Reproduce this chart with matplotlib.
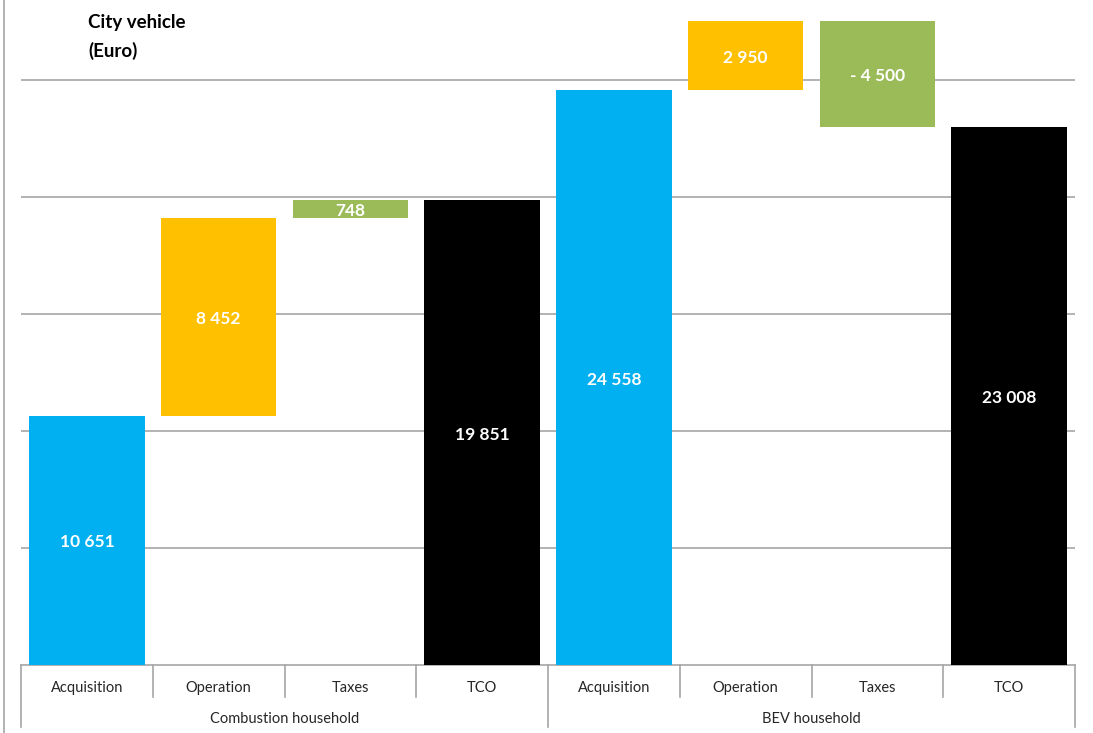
import matplotlib.pyplot as plt
from matplotlib.lines import Line2D

plt.rcParams['font.family'] = ['Lato', 'DejaVu Sans']

# data
groups = ["Combustion household", "BEV household"]
steps = ["Acquisition", "Operation", "Taxes", "TCO"]
combustion = [10651, 8452, 748]
bev = [24558, 2950, -4500]
colors = ["#00B0F0", "#FFC000", "#9BBB59", "#000000"]


def waterfall(vals):
    """ bottoms and heights for a waterfall with a total bar """
    bottoms, heights = [], []
    run = 0
    for v in vals:
        if v >= 0:
            bottoms.append(run)
            heights.append(v)
        else:
            bottoms.append(run + v)
            heights.append(-v)
        run += v
    bottoms.append(0)
    heights.append(run)
    return bottoms, heights, vals + [run]


W, H = 1093, 733
fig = plt.figure(figsize=(W / 100, H / 100), dpi=100)
ymax = 28000
px_per = 585 / 25000
ax_h = ymax * px_per
ax = fig.add_axes([21 / W, (H - 665) / H, (1075 - 21) / W, ax_h / H])

x = 0
for g, vals in zip(groups, [combustion, bev]):
    bottoms, heights, labels = waterfall(vals)
    for i in range(4):
        ax.bar(x + i, heights[i], bottom=bottoms[i], width=0.875,
               color=colors[i], zorder=3)
        txt = f"{abs(labels[i]):,}".replace(",", " ")
        if labels[i] < 0:
            txt = "- " + txt
        ax.annotate(txt, (x + i, bottoms[i] + heights[i] / 2),
                    xytext=(0, -1.5), textcoords='offset points',
                    ha='center', va='center', color='white',
                    fontweight='bold', fontsize=12.5, zorder=4)
    x += 4

ax.set_xlim(-0.5, 7.5)
ax.set_ylim(0, ymax)
ax.set_yticks([5000, 10000, 15000, 20000, 25000])
ax.yaxis.grid(True, color='#a6a6a6', linewidth=1.2)
ax.set_axisbelow(True)
ax.tick_params(left=False, labelleft=False, bottom=False, labelbottom=False)
for s in ['top', 'right', 'left']:
    ax.spines[s].set_visible(False)
ax.spines['bottom'].set_color('#a6a6a6')
ax.spines['bottom'].set_linewidth(1.2)

# two-level category axis
tr = ax.get_xaxis_transform()
row1 = -32 / ax_h
row2 = -62 / ax_h
for k in range(9):
    xs = k - 0.5
    low = row2 if k % 4 == 0 else row1
    ax.plot([xs, xs], [0, low], color='#a6a6a6', lw=1.2, transform=tr,
            clip_on=False)
for k in range(8):
    ax.text(k, -23 / ax_h, steps[k % 4], transform=tr, ha='center',
            va='center', fontsize=10.5, color='#262626')
for j, g in enumerate(groups):
    ax.text(j * 4 + 1.5, -54 / ax_h, g, transform=tr, ha='center',
            va='center', fontsize=10.5, color='#262626')

fig.text(88 / W, 1 - 37 / H, "City vehicle\n(Euro)", ha='left',
         va='center', fontsize=13.5, fontweight='bold', linespacing=1.7)

fig.add_artist(Line2D([4 / W, 4 / W], [0, 1], color='#a6a6a6', lw=1.2))

fig.savefig("out.png", dpi=100)
